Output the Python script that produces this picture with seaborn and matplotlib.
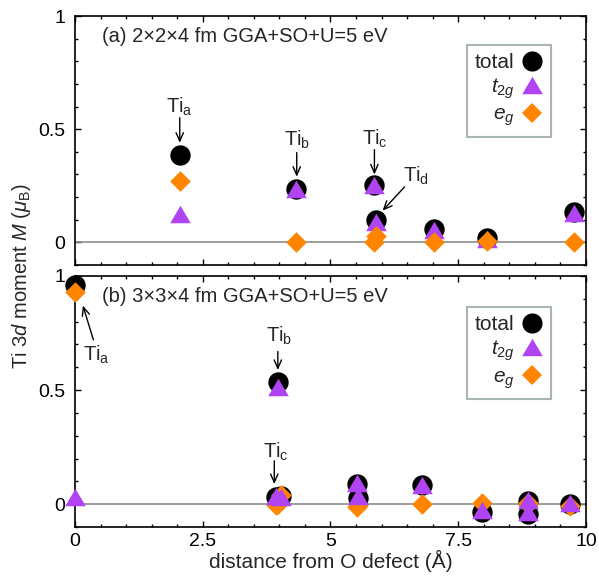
import matplotlib
matplotlib.use('Agg')
import matplotlib.pyplot as plt
import seaborn as sns
from matplotlib.lines import Line2D
from matplotlib.ticker import MultipleLocator, FormatStrFormatter

sns.set_theme(style='ticks')
plt.rcParams['font.family'] = ['Liberation Sans', 'DejaVu Sans']
plt.rcParams['mathtext.fontset'] = 'custom'
plt.rcParams['mathtext.rm'] = 'Liberation Sans'
plt.rcParams['mathtext.it'] = 'Liberation Sans:italic'
plt.rcParams['mathtext.bf'] = 'Liberation Sans:bold'

# (a) 2x2x4 cell
a_dist = [2.05, 4.32, 5.86, 5.89, 7.02, 8.07, 9.76]
a_total = [0.388, 0.234, 0.252, 0.100, 0.058, 0.019, 0.132]
a_t2g = [0.125, 0.237, 0.255, 0.090, 0.055, 0.015, 0.130]
a_eg = [0.270, 0.003, 0.000, 0.026, 0.000, 0.005, 0.003]

# (b) 3x3x4 cell
b_dist = [0.00, 3.97, 3.93, 4.03, 5.51, 5.53, 6.80, 7.96, 8.87, 8.87, 9.69]
b_total = [0.960, 0.537, 0.030, 0.035, 0.090, 0.029, 0.084, -0.034, 0.015, -0.044, 0.003]
b_t2g = [0.033, 0.515, 0.036, 0.030, 0.095, 0.036, 0.085, -0.025, 0.018, -0.035, 0.006]
b_eg = [0.930, 0.000, -0.005, 0.040, -0.012, -0.005, 0.000, 0.005, 0.000, 0.005, -0.010]

c_total = 'black'
c_t2g = '#b044f2'
c_eg = '#ff8400'
tri = [(0, 0.85), (-1, -0.85), (1, -0.85)]

fig = plt.figure(figsize=(5.99, 5.76), dpi=100)
ax1 = fig.add_axes([0.1252, 0.540, 0.853, 0.432])
ax2 = fig.add_axes([0.1252, 0.085, 0.853, 0.436])


def draw(ax, x, tot, t2g, eg, eg_top):
    ax.axhline(0, color='#8c8c8c', lw=1.2, zorder=1)
    sns.scatterplot(x=x, y=tot, ax=ax, color=c_total, marker='o', s=215,
                    linewidth=0, clip_on=False, zorder=3)
    sns.scatterplot(x=x, y=t2g, ax=ax, color=c_t2g, marker=tri, s=220,
                    linewidth=0, clip_on=False, zorder=4 if eg_top else 5)
    sns.scatterplot(x=x, y=eg, ax=ax, color=c_eg, marker='D', s=110,
                    linewidth=0, clip_on=False, zorder=5 if eg_top else 4)
    ax.set_xlim(0, 10)
    ax.set_ylim(-0.1, 1)
    ax.xaxis.set_major_locator(MultipleLocator(2.5))
    ax.xaxis.set_minor_locator(MultipleLocator(0.5))
    ax.yaxis.set_major_locator(MultipleLocator(0.5))
    ax.yaxis.set_minor_locator(MultipleLocator(0.1))
    ax.xaxis.set_major_formatter(FormatStrFormatter('%g'))
    ax.yaxis.set_major_formatter(FormatStrFormatter('%g'))
    ax.tick_params(which='both', direction='in', top=True, right=True,
                   width=1, labelsize=14, colors='black')
    ax.tick_params(which='major', length=4.5)
    ax.tick_params(which='minor', length=2.5)
    ax.tick_params(axis='y', pad=7)
    ax.tick_params(axis='x', pad=4)
    for sp in ax.spines.values():
        sp.set_linewidth(1.2)
        sp.set_color('black')
    handles = [
        Line2D([], [], ls='none', marker='o', color=c_total, markersize=14.5, mew=0),
        Line2D([], [], ls='none', marker=tri, color=c_t2g, markersize=14.8, mew=0),
        Line2D([], [], ls='none', marker='D', color=c_eg, markersize=10.5, mew=0),
    ]
    return handles


def legend(ax, handles, anchor):
    leg = ax.legend(handles, ['total', '$t_{2g}$', '$e_g$'], loc='upper right',
                    bbox_to_anchor=anchor, markerfirst=False, alignment='right',
                    fontsize=15, frameon=True, fancybox=False, framealpha=1,
                    edgecolor='#a8b6ae', handlelength=1.0, handletextpad=0.35,
                    labelspacing=0.2, borderpad=0.4, borderaxespad=0)
    leg.get_frame().set_linewidth(1.5)
    for t in leg.get_texts():
        t.set_ha('right')


def arrow(ax, tail, tip):
    ax.annotate('', xy=tip, xytext=tail,
                arrowprops=dict(arrowstyle='->,head_length=0.5,head_width=0.22',
                                color='black', lw=1.0, shrinkA=0, shrinkB=0))


h = draw(ax1, a_dist, a_total, a_t2g, a_eg, True)
legend(ax1, h, (0.932, 0.884))
ax1.tick_params(axis='x', labelbottom=False)
ax1.text(0.053, 0.92, '(a) 2×2×4 fm GGA+SO+U=5 eV', transform=ax1.transAxes,
         fontsize=14.5, va='center', ha='left')
ax1.text(2.05, 0.574, 'Ti$_\\mathregular{a}$', fontsize=14.5, ha='center', va='baseline')
ax1.text(4.34, 0.426, 'Ti$_\\mathregular{b}$', fontsize=14.5, ha='center', va='baseline')
ax1.text(5.87, 0.431, 'Ti$_\\mathregular{c}$', fontsize=14.5, ha='center', va='baseline')
ax1.text(6.67, 0.268, 'Ti$_\\mathregular{d}$', fontsize=14.5, ha='center', va='baseline')
arrow(ax1, (2.05, 0.551), (2.05, 0.44))
arrow(ax1, (4.34, 0.397), (4.34, 0.29))
arrow(ax1, (5.86, 0.41), (5.86, 0.30))
arrow(ax1, (6.45, 0.245), (6.02, 0.14))

h = draw(ax2, b_dist, b_total, b_t2g, b_eg, False)
legend(ax2, h, (0.932, 0.876))
ax2.text(0.053, 0.917, '(b) 3×3×4 fm GGA+SO+U=5 eV', transform=ax2.transAxes,
         fontsize=14.5, va='center', ha='left')
ax2.text(0.42, 0.63, 'Ti$_\\mathregular{a}$', fontsize=14.5, ha='center', va='baseline')
ax2.text(4.0, 0.713, 'Ti$_\\mathregular{b}$', fontsize=14.5, ha='center', va='baseline')
ax2.text(3.93, 0.203, 'Ti$_\\mathregular{c}$', fontsize=14.5, ha='center', va='baseline')
arrow(ax2, (0.36, 0.72), (0.155, 0.87))
arrow(ax2, (3.97, 0.669), (3.97, 0.588))
arrow(ax2, (3.9, 0.19), (3.9, 0.088))

ax2.set_xlabel('distance from O defect (Å)', fontsize=15, labelpad=0)
fig.text(0.036, 0.52, 'Ti 3$d$ moment $M$ ($\\mu_\\mathregular{B}$)', rotation=90,
         fontsize=14.5, ha='center', va='center')

fig.savefig('out.png', dpi=100)
